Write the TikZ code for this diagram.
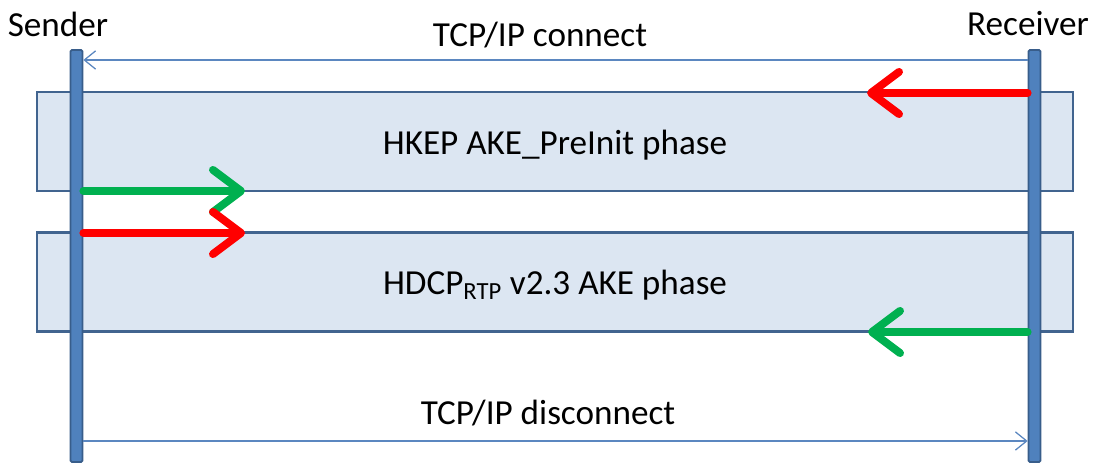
\documentclass[tikz,border=0pt]{standalone}
\usepackage{fontspec}
\setmainfont{Carlito}
\usetikzlibrary{arrows.meta}
\definecolor{barfill}{HTML}{4F81BD}
\definecolor{barline}{HTML}{385D8A}
\definecolor{boxfill}{HTML}{DCE6F2}
\definecolor{boxline}{HTML}{41648F}
\definecolor{msgline}{HTML}{5B87C0}
\definecolor{redmsg}{HTML}{FF0000}
\definecolor{greenmsg}{HTML}{00B050}

\begin{document}
\begin{tikzpicture}[x=0.025cm,y=-0.025cm,font=\fontsize{25}{30}\selectfont,
		thick]
		\tikzstyle{phase}=[draw=boxline,fill=boxfill,line width=1.6pt,inner sep=0pt,
			minimum width=25.9cm,minimum height=2.475cm]
		\tikzstyle{lifeline}=[draw=barline,fill=barfill,line width=1.2pt,inner sep=0pt,
			rounded corners=1pt,minimum width=0.3cm,minimum height=10.3cm]
		\tikzstyle{tcp}=[draw=msgline,line width=0.9pt,
			-{Straight Barb[length=8pt,width=13pt]}]
		\tikzstyle{key}=[line width=5.6pt,line cap=round,
			-{Straight Barb[length=20pt,width=30pt,line cap=round,line join=round]}]
		
		\useasboundingbox (0,0) rectangle (1094,464);
		
		\node[phase] (pre) at (555,141.5) {};
		\node[phase] (ake) at (555,282) {};
		\node at (pre.center) [yshift=-0.1cm] {HKEP AKE\_PreInit phase};
		\node at (ake.center) [yshift=-0.08cm] {HDCP\textsubscript{RTP} v2.3 AKE phase};
		
		\node[lifeline] (send) at (76.5,256) {};
		\node[lifeline] (recv) at (1034.5,256) {};
		\node (sendlbl) at (58,24) {Sender};
		\node (recvlbl) at (1028,24) {Receiver};
		
		\coordinate (c0) at (recv.west |- 0,60);
		\coordinate (c1) at (send.east |- 0,60);
		\coordinate (d0) at (send.east |- 0,441);
		\coordinate (d1) at (recv.west |- 0,441);
		\coordinate (k1) at (867,93);
		\coordinate (k2) at (245,191);
		\coordinate (k3) at (245,233);
		\coordinate (k4) at (868,332);
		
		\node (conlbl) at (540,35) {TCP/IP connect};
		\node (dislbl) at (548,413) {TCP/IP disconnect};
		
		\path 
		(c0) edge [tcp] (c1)
		(d0) edge [tcp] (d1);
		\draw[key,redmsg] (recv.west |- k1) -- (k1);
		\draw[key,greenmsg] (send.east |- k2) -- (k2);
		\draw[key,redmsg] (send.east |- k3) -- (k3);
		\draw[key,greenmsg] (recv.west |- k4) -- (k4);
\end{tikzpicture}
\end{document}
